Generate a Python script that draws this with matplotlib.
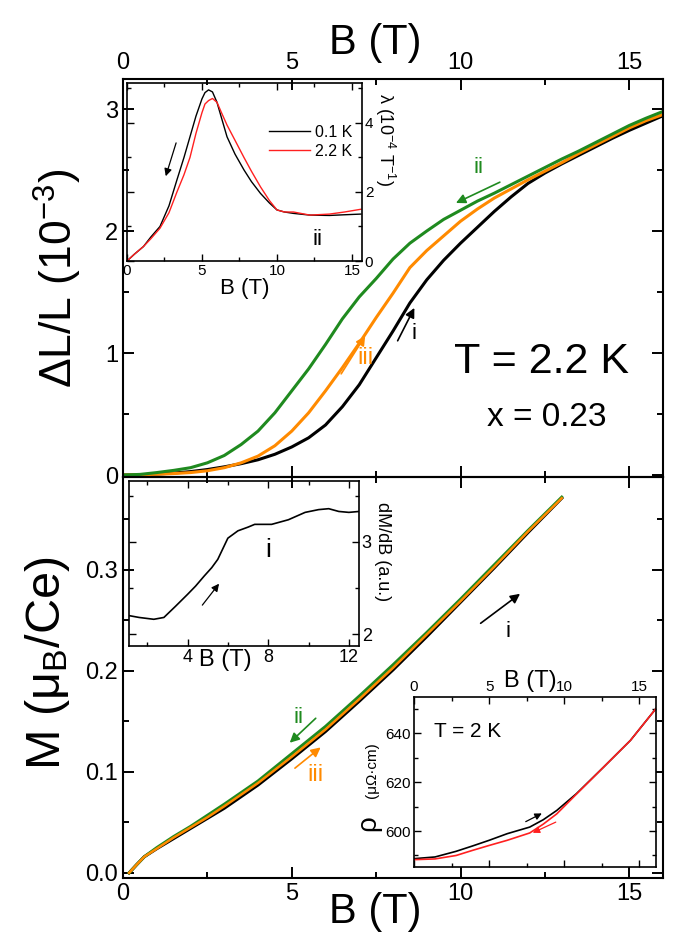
import numpy as np
import matplotlib
matplotlib.use('Agg')
import matplotlib.pyplot as plt
from matplotlib.ticker import MultipleLocator

plt.rcParams['font.family'] = ['Liberation Sans', 'DejaVu Sans']
plt.rcParams['mathtext.fontset'] = 'custom'
plt.rcParams['mathtext.rm'] = 'Liberation Sans'
plt.rcParams['mathtext.it'] = 'Liberation Sans:italic'
plt.rcParams['mathtext.default'] = 'regular'

GREEN = '#1f8a1f'
ORANGE = '#ff8a00'
RED = '#ff2020'

# magnetostriction dL/L (1e-3), T = 2.2 K
B_dl = [0, 0.5, 1, 1.5, 2, 2.5, 3, 3.5, 4, 4.5, 5, 5.5, 6, 6.5, 7, 7.5, 8, 8.5, 9, 9.5,
        10, 10.5, 11, 11.5, 12, 12.5, 13, 13.5, 14, 14.5, 15, 15.5, 16]
dl_i = [0, 0.002, 0.008, 0.016, 0.028, 0.045, 0.067, 0.093, 0.125, 0.17, 0.23, 0.305, 0.41, 0.56,
        0.74, 0.96, 1.18, 1.41, 1.60, 1.76, 1.90, 2.03, 2.16, 2.28, 2.39, 2.475, 2.55, 2.62,
        2.69, 2.76, 2.825, 2.885, 2.945]
dl_iii = [0, 0.002, 0.006, 0.012, 0.02, 0.035, 0.06, 0.10, 0.155, 0.24, 0.36, 0.51, 0.69, 0.88,
          1.08, 1.29, 1.49, 1.70, 1.84, 1.96, 2.08, 2.18, 2.27, 2.345, 2.42, 2.49, 2.56, 2.635,
          2.705, 2.775, 2.845, 2.905, 2.955]
dl_ii = [0, 0.005, 0.02, 0.038, 0.06, 0.10, 0.16, 0.25, 0.36, 0.51, 0.69, 0.87, 1.07, 1.28,
         1.46, 1.61, 1.77, 1.90, 2.00, 2.095, 2.17, 2.245, 2.31, 2.38, 2.45, 2.52, 2.59, 2.655,
         2.725, 2.795, 2.865, 2.925, 2.98]

# magnetization M (muB/Ce)
B_m = [0.18, 0.4, 0.63, 1.0, 1.5, 2.0, 2.5, 3.0, 4.0, 5.0, 6.0, 7.0, 8.0, 9.0, 10.0, 11.0, 12.0, 13.0]
m_i = [0, 0.008, 0.016, 0.024, 0.034, 0.044, 0.054, 0.064, 0.087, 0.113, 0.140, 0.170, 0.201, 0.234, 0.268, 0.302, 0.337, 0.371]
m_iii = [0, 0.008, 0.016, 0.024, 0.035, 0.045, 0.055, 0.066, 0.089, 0.115, 0.142, 0.172, 0.203, 0.236, 0.269, 0.303, 0.338, 0.371]
m_ii = [0, 0.008, 0.016, 0.025, 0.036, 0.046, 0.057, 0.068, 0.091, 0.118, 0.145, 0.175, 0.206, 0.238, 0.271, 0.305, 0.339, 0.372]

# inset: lambda (1e-4 1/T)
B_lam = [0, 0.5, 1.1, 1.6, 2.2, 2.8, 3.33, 3.8, 4.2, 4.6, 5.0, 5.2, 5.44, 5.7, 6.0, 6.3, 6.67,
         7.2, 7.8, 8.3, 8.9, 9.5, 10.0, 10.5, 11.1, 12.2, 13.5, 14.5, 15.6]
lam_01 = [0, 0.2, 0.42, 0.7, 1.0, 1.6, 2.35, 3.0, 3.6, 4.2, 4.7, 4.88, 4.96, 4.9, 4.6, 4.15, 3.6,
          3.1, 2.64, 2.3, 1.96, 1.68, 1.48, 1.42, 1.38, 1.33, 1.32, 1.34, 1.36]
lam_22 = [0, 0.2, 0.42, 0.65, 0.95, 1.4, 2.0, 2.5, 3.0, 3.7, 4.3, 4.55, 4.65, 4.71, 4.6, 4.3, 3.94,
          3.5, 3.0, 2.6, 2.15, 1.75, 1.48, 1.42, 1.42, 1.33, 1.36, 1.42, 1.5]

# inset: dM/dB (a.u.)
B_dm = [1.1, 1.6, 2.33, 2.83, 3.4, 4.0, 4.4, 4.83, 5.2, 5.5, 6.0, 6.5, 7.0, 7.33, 8.17, 9.0, 9.83, 10.5, 11.0, 11.5, 12.0, 12.5]
dmdb = [2.2, 2.18, 2.16, 2.18, 2.3, 2.43, 2.52, 2.63, 2.72, 2.81, 3.04, 3.12, 3.16, 3.19, 3.19, 3.24, 3.32, 3.35, 3.36, 3.33, 3.32, 3.33]

# inset: resistivity (uOhm cm), T = 2 K
B_rho = [0, 1.4, 2.8, 3.9, 5.0, 6.2, 7.7, 8.6, 9.5, 10.8, 12.6, 14.4, 16.1]
rho_up = [588.7, 589.4, 591.7, 593.9, 596.2, 598.9, 601.6, 604.6, 608.4, 615.2, 626.0, 637.0, 650.0]
rho_dn = [588.3, 588.6, 590.0, 592.1, 594.1, 596.2, 599.2, 602.8, 607.0, 615.0, 626.0, 637.0, 650.0]

fig = plt.figure(figsize=(6.74, 9.46), dpi=100)

def style_main(ax, ymaj, ymin):
    ax.xaxis.set_major_locator(MultipleLocator(5))
    ax.xaxis.set_minor_locator(MultipleLocator(2.5))
    ax.yaxis.set_major_locator(MultipleLocator(ymaj))
    ax.yaxis.set_minor_locator(MultipleLocator(ymin))
    ax.tick_params(which='both', direction='in', top=True, right=True, width=1.4, labelsize=17)
    ax.tick_params(which='major', length=8)
    ax.tick_params(which='minor', length=4.5)
    for s in ax.spines.values():
        s.set_linewidth(1.5)
    ax.patch.set_alpha(0)

# top panel
ax1 = fig.add_axes([0.1825, 0.4958, 0.8012, 0.4207], zorder=3)
ax1.plot(B_dl, dl_i, color='black', lw=2.2)
ax1.plot(B_dl, dl_iii, color=ORANGE, lw=2.2)
ax1.plot(B_dl, dl_ii, color=GREEN, lw=2.2)
ax1.set_xlim(0, 16)
ax1.set_ylim(-0.016, 3.246)
style_main(ax1, 1, 0.5)
ax1.tick_params(labeltop=True, labelbottom=False)
ax1.set_xlabel('B (T)', fontsize=30)
ax1.xaxis.set_label_position('top')
ax1.xaxis.set_label_coords(0.467, 1.04)
ax1.xaxis.label.set_va('bottom')
ax1.set_ylabel(r'$\Delta$L/L (10$^{-3}$)', fontsize=32)
ax1.yaxis.set_label_coords(-0.072, 0.5)
ax1.text(12.4, 0.93, 'T = 2.2 K', fontsize=31, ha='center', va='center')
ax1.text(12.55, 0.47, 'x = 0.23', fontsize=24, ha='center', va='center')
ax1.text(10.53, 2.52, 'ii', color=GREEN, fontsize=16, ha='center', va='center')
ax1.annotate('', xy=(9.79, 2.22), xytext=(11.24, 2.41),
             arrowprops=dict(arrowstyle='-|>', color=GREEN, lw=1.2, mutation_scale=14))
ax1.text(8.61, 1.16, 'i', color='black', fontsize=16, ha='center', va='center')
ax1.annotate('', xy=(8.67, 1.39), xytext=(8.1, 1.08),
             arrowprops=dict(arrowstyle='-|>', color='black', lw=1.2, mutation_scale=14))
ax1.text(7.19, 0.96, 'iii', color=ORANGE, fontsize=17, ha='center', va='center')
ax1.annotate('', xy=(7.22, 1.16), xytext=(6.42, 0.81),
             arrowprops=dict(arrowstyle='-|>', color=ORANGE, lw=1.2, mutation_scale=14))

# bottom panel
ax2 = fig.add_axes([0.1825, 0.0719, 0.8012, 0.4239], zorder=3)
ax2.plot(B_m, m_i, color='black', lw=2.2)
ax2.plot(B_m, m_ii, color=GREEN, lw=2.2)
ax2.plot(B_m, m_iii, color=ORANGE, lw=1.8)
ax2.set_xlim(0, 16)
ax2.set_ylim(-0.005, 0.392)
style_main(ax2, 0.1, 0.05)
ax2.yaxis.set_major_formatter(plt.FuncFormatter(lambda v, p: '%.1f' % v))
ax2.set_xlabel('B (T)', fontsize=30)
ax2.xaxis.set_label_coords(0.467, -0.035)
ax2.set_ylabel(r'M ($\mu_B$/Ce)', fontsize=35)
ax2.yaxis.set_label_coords(-0.094, 0.536)
ax2.text(11.42, 0.239, 'i', color='black', fontsize=16, ha='center', va='center')
ax2.annotate('', xy=(11.83, 0.278), xytext=(10.53, 0.2455),
             arrowprops=dict(arrowstyle='-|>', color='black', lw=1.2, mutation_scale=14))
ax2.text(5.2, 0.154, 'ii', color=GREEN, fontsize=16, ha='center', va='center')
ax2.annotate('', xy=(4.88, 0.127), xytext=(5.77, 0.155),
             arrowprops=dict(arrowstyle='-|>', color=GREEN, lw=1.2, mutation_scale=14))
ax2.text(5.71, 0.097, 'iii', color=ORANGE, fontsize=17, ha='center', va='center')
ax2.annotate('', xy=(5.92, 0.126), xytext=(5.03, 0.102),
             arrowprops=dict(arrowstyle='-|>', color=ORANGE, lw=1.2, mutation_scale=14))

def style_inset(ax, lsize):
    ax.tick_params(which='both', direction='in', top=True, right=True, width=1.0, labelsize=lsize, pad=2)
    ax.tick_params(which='major', length=5)
    ax.tick_params(which='minor', length=3)
    for s in ax.spines.values():
        s.set_linewidth(1.2)

# inset: lambda
ax3 = fig.add_axes([0.1884, 0.7241, 0.3487, 0.1882], zorder=1)
ax3.plot(B_lam, lam_01, color='black', lw=1.0, label='0.1 K')
ax3.plot(B_lam, lam_22, color=RED, lw=1.0, label='2.2 K')
ax3.set_xlim(0, 15.67)
ax3.set_ylim(0, 5.16)
ax3.xaxis.set_major_locator(MultipleLocator(5))
ax3.xaxis.set_minor_locator(MultipleLocator(2.5))
ax3.yaxis.set_major_locator(MultipleLocator(2))
ax3.yaxis.set_minor_locator(MultipleLocator(1))
style_inset(ax3, 11)
ax3.tick_params(labelleft=False, labelright=True)
ax3.set_xlabel('B (T)', fontsize=16, labelpad=0)
ax3.text(1.098, 0.68, r'$\lambda$ (10$^{-4}$ T$^{-1}$)', fontsize=13, rotation=270,
         ha='center', va='center', transform=ax3.transAxes)
ax3.legend(loc='upper right', bbox_to_anchor=(1.0, 0.82), frameon=False, fontsize=11.5,
           handlelength=2.6, handletextpad=0.3, borderaxespad=0.2, labelspacing=0.25)
ax3.text(12.67, 0.61, 'ii', fontsize=16, ha='center', va='center')
ax3.annotate('', xy=(2.53, 2.38), xytext=(3.33, 3.5),
             arrowprops=dict(arrowstyle='-|>', color='black', lw=0.9, mutation_scale=11))

# inset: dM/dB
ax4 = fig.add_axes([0.1914, 0.3171, 0.3412, 0.1744], zorder=1)
ax4.plot(B_dm, dmdb, color='black', lw=1.2)
ax4.set_xlim(1.1, 12.5)
ax4.set_ylim(1.87, 3.66)
ax4.xaxis.set_major_locator(MultipleLocator(4))
ax4.xaxis.set_minor_locator(MultipleLocator(2))
ax4.yaxis.set_major_locator(MultipleLocator(1))
ax4.yaxis.set_minor_locator(MultipleLocator(0.5))
style_inset(ax4, 13)
ax4.tick_params(labelleft=False, labelright=True)
ax4.text(1.104, 0.57, 'dM/dB (a.u.)', fontsize=13, rotation=270,
         ha='center', va='center', transform=ax4.transAxes)
ax4.set_xlabel('B (T)', fontsize=17)
ax4.xaxis.set_label_coords(0.42, -0.02)
ax4.text(8.0, 2.91, 'i', fontsize=19, ha='center', va='center')
ax4.annotate('', xy=(5.65, 2.57), xytext=(4.65, 2.29),
             arrowprops=dict(arrowstyle='-|>', color='black', lw=0.9, mutation_scale=11))

# inset: resistivity
ax5 = fig.add_axes([0.6142, 0.0835, 0.3591, 0.1797], zorder=4)
ax5.plot(B_rho, rho_up, color='black', lw=1.2)
ax5.plot(B_rho, rho_dn, color=RED, lw=1.2)
ax5.set_xlim(0, 16.1)
ax5.set_ylim(585.3, 654.7)
ax5.xaxis.set_major_locator(MultipleLocator(5))
ax5.xaxis.set_minor_locator(MultipleLocator(2.5))
ax5.yaxis.set_major_locator(MultipleLocator(20))
ax5.yaxis.set_minor_locator(MultipleLocator(10))
style_inset(ax5, 11)
ax5.tick_params(labeltop=True, labelbottom=False)
ax5.xaxis.set_label_position('top')
ax5.set_xlabel('B (T)', fontsize=17)
ax5.xaxis.set_label_coords(0.48, 1.03)
ax5.xaxis.label.set_va('bottom')
ax5.text(-0.175, 0.25, r'$\rho$', fontsize=20, rotation=90, ha='center', va='center',
         transform=ax5.transAxes)
ax5.text(-0.172, 0.57, '(μΩ·cm)', fontsize=11, rotation=90, ha='center', va='center',
         transform=ax5.transAxes)
ax5.text(0.22, 0.8, 'T = 2 K', fontsize=15, ha='center', va='center', transform=ax5.transAxes)
ax5.annotate('', xy=(8.67, 607.7), xytext=(7.27, 603.3),
             arrowprops=dict(arrowstyle='-|>', color='black', lw=0.9, mutation_scale=10))
ax5.annotate('', xy=(7.73, 598.8), xytext=(9.6, 604.1),
             arrowprops=dict(arrowstyle='-|>', color=RED, lw=0.9, mutation_scale=10))

fig.savefig('out.png', dpi=100)
